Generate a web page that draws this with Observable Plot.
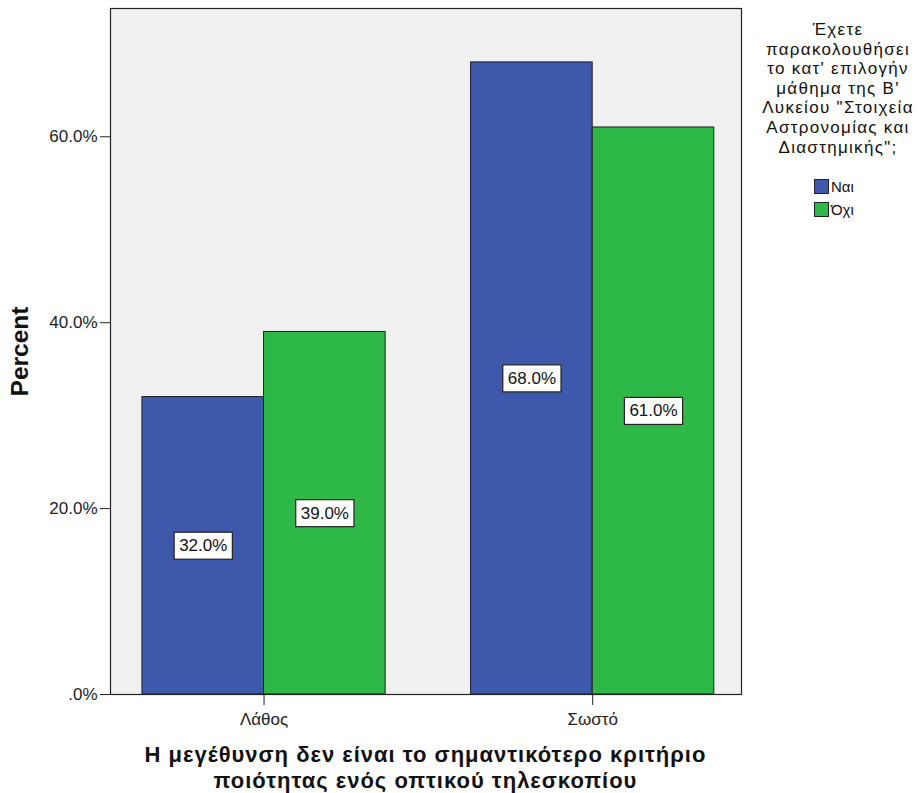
<!DOCTYPE html>
<html lang="el">
<head>
<meta charset="utf-8">
<title>Η μεγέθυνση δεν είναι το σημαντικότερο κριτήριο</title>
<script src="https://cdn.jsdelivr.net/npm/d3@7"></script>
<script src="https://cdn.jsdelivr.net/npm/@observablehq/plot@0.6"></script>
<style>
  html, body { margin: 0; padding: 0; background: #ffffff; }
  body { font-family: "Liberation Sans", Arial, sans-serif; color: #111; }
  #wrap { position: relative; width: 922px; height: 793px; }
  #chart { position: absolute; left: 0; top: 0; width: 745px; }
  #caption {
    position: absolute; left: 80px; top: 742px; width: 691px;
    text-align: center; font-weight: bold; font-size: 22px; letter-spacing: 1px;
    line-height: 25.5px; color: #111;
  }
  #legend { position: absolute; left: 748px; top: 20px; width: 180px; }
  #legend .title {
    text-align: center; font-size: 17px; letter-spacing: 1.3px; line-height: 19.6px; color: #111;
  }
  #legend .items { position: absolute; left: 66px; top: 155px; }
  #legend .item { display: flex; align-items: center; height: 23px; font-size: 15px; }
  #legend .swatch {
    width: 13px; height: 13px; border: 1px solid #222; margin-right: 2px; box-sizing: content-box;
  }
</style>
</head>
<body>
<div id="wrap">
  <div id="chart"></div>
  <div id="caption">Η μεγέθυνση δεν είναι το σημαντικότερο κριτήριο<br>ποιότητας ενός οπτικού τηλεσκοπίου</div>
  <div id="legend">
    <div class="title">Έχετε<br>παρακολουθήσει<br>το κατ' επιλογήν<br>μάθημα της Β'<br>Λυκείου "Στοιχεία<br>Αστρονομίας και<br>Διαστημικής";</div>
    <div class="items" id="legend-items"></div>
  </div>
</div>
<script>
// Answers on the x axis, the two respondent groups, and their percentages
const answers = ["Λάθος", "Σωστό"];
const groups = ["Ναι", "Όχι"];
const naiValues = [32.0, 68.0];
const oxiValues = [39.0, 61.0];
const groupColors = ["#3e58ac", "#2eb848"];
const yTicks = [0, 20, 40, 60];
const yLabel = "Percent";

const naiData = answers.map((answer, i) => ({answer, group: groups[0], value: naiValues[i]}));
const oxiData = answers.map((answer, i) => ({answer, group: groups[1], value: oxiValues[i]}));

const pctFormat = v => (v === 0 ? ".0%" : v.toFixed(1) + "%");

// Layout of the band scale; the same settings give the half-band width for the paired bars
const W = 745, H = 735, mL = 110, mR = 4, mT = 8, mB = 41;
const padInner = 0.26, padOuter = 0.09, bandAlign = 0.54;
const band = d3.scaleBand().domain(answers).range([mL, W - mR])
  .paddingInner(padInner).paddingOuter(padOuter).align(bandAlign);
const half = band.bandwidth() / 2;

const chart = Plot.plot({
  width: W,
  height: H,
  marginLeft: mL,
  marginRight: mR,
  marginTop: mT,
  marginBottom: mB,
  style: {fontFamily: "Liberation Sans, Arial, sans-serif", fontSize: "17px", color: "#222", background: "transparent"},
  x: {domain: answers, paddingInner: padInner, paddingOuter: padOuter, align: bandAlign, round: false, label: null},
  y: {domain: [0, 73.8], label: null},
  color: {domain: groups, range: groupColors},
  marks: [
    Plot.frame({fill: "#f0f0f0"}),
    Plot.barY(naiData, {x: "answer", y: "value", fill: "group", stroke: "#1f1f1f", strokeWidth: 1, insetRight: half}),
    Plot.barY(oxiData, {x: "answer", y: "value", fill: "group", stroke: "#1f1f1f", strokeWidth: 1, insetLeft: half}),
    Plot.text(naiData, {x: "answer", y: d => d.value / 2, dx: -half / 2, text: d => pctFormat(d.value),
      fontSize: 17, fill: "#111"}),
    Plot.text(oxiData, {x: "answer", y: d => d.value / 2, dx: half / 2, text: d => pctFormat(d.value),
      fontSize: 17, fill: "#111"}),
    Plot.frame({stroke: "#222", strokeWidth: 1.2}),
    Plot.axisY({ticks: yTicks, tickFormat: pctFormat, tickSize: 10, tickPadding: 3, label: null, fontSize: 17}),
    Plot.axisX({tickSize: 11, tickPadding: 7, label: null, fontSize: 17}),
    Plot.text([yLabel], {frameAnchor: "left", textAnchor: "middle", dx: -90, rotate: -90, text: d => d,
      fontSize: 24.5, fontWeight: "bold", fill: "#111"})
  ]
});

document.getElementById("chart").appendChild(chart);

// White boxes behind the value labels inside the bars
const ns = "http://www.w3.org/2000/svg";
chart.querySelectorAll('g[aria-label="text"] text').forEach(t => {
  if (!/%$/.test(t.textContent)) return;
  const b = t.getBBox();
  const r = document.createElementNS(ns, "rect");
  r.setAttribute("x", b.x - 5);
  r.setAttribute("y", b.y - 4);
  r.setAttribute("width", b.width + 10);
  r.setAttribute("height", b.height + 8);
  r.setAttribute("fill", "#ffffff");
  r.setAttribute("stroke", "#222");
  r.setAttribute("stroke-width", "1.2");
  const tr = t.getAttribute("transform");
  if (tr) r.setAttribute("transform", tr);
  t.parentNode.insertBefore(r, t);
});

// Legend swatches
const items = document.getElementById("legend-items");
groups.forEach((g, i) => {
  const row = document.createElement("div");
  row.className = "item";
  const sw = document.createElement("span");
  sw.className = "swatch";
  sw.style.background = groupColors[i];
  const lab = document.createElement("span");
  lab.textContent = g;
  row.appendChild(sw);
  row.appendChild(lab);
  items.appendChild(row);
});
</script>
</body>
</html>
